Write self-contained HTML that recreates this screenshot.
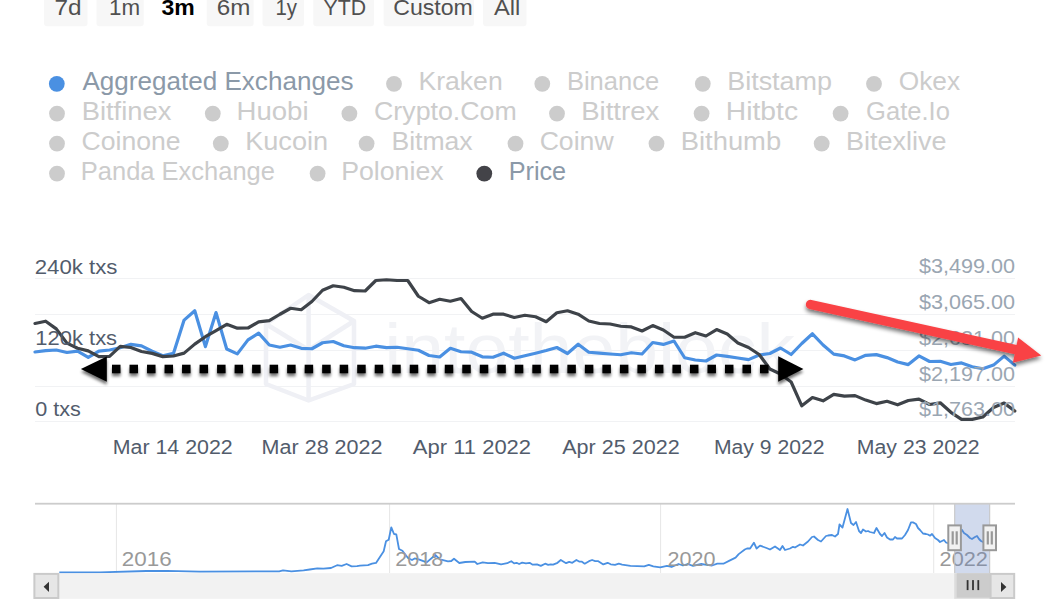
<!DOCTYPE html>
<html><head><meta charset="utf-8"><title>Exchange transactions chart</title>
<style>
html,body{margin:0;padding:0;background:#fff;width:1050px;height:600px;overflow:hidden;}
svg{display:block;font-family:"Liberation Sans", sans-serif;}
</style></head><body>
<svg width="1050" height="600" viewBox="0 0 1050 600">
<defs>
<clipPath id="plotclip"><rect x="33" y="260" width="984" height="170"/></clipPath>
<filter id="shd" x="-5%" y="-50%" width="110%" height="250%"><feGaussianBlur in="SourceAlpha" stdDeviation="1.6"/><feOffset dx="0" dy="3" result="b"/><feComponentTransfer><feFuncA type="linear" slope="0.55"/></feComponentTransfer><feMerge><feMergeNode/><feMergeNode in="SourceGraphic"/></feMerge></filter>
<filter id="shd2" x="-10%" y="-50%" width="120%" height="250%"><feGaussianBlur in="SourceAlpha" stdDeviation="2"/><feOffset dx="0" dy="3" result="b"/><feComponentTransfer><feFuncA type="linear" slope="0.55"/></feComponentTransfer><feMerge><feMergeNode/><feMergeNode in="SourceGraphic"/></feMerge></filter>
</defs>
<rect width="1050" height="600" fill="#ffffff"/>
<rect x="44" y="-10" width="43.5" height="36.2" rx="3" fill="#f7f7f7"/>
<text x="54.45" y="14.90" font-size="22" fill="#505050" textLength="27.12" lengthAdjust="spacingAndGlyphs">7d</text>
<rect x="96.5" y="-10" width="47.2" height="36.2" rx="3" fill="#f7f7f7"/>
<text x="109.00" y="14.90" font-size="22" fill="#505050" textLength="31.08" lengthAdjust="spacingAndGlyphs">1m</text>
<text x="161.57" y="14.90" font-size="22" fill="#000000" font-weight="bold" textLength="33.25" lengthAdjust="spacingAndGlyphs">3m</text>
<rect x="206.7" y="-10" width="46.9" height="36.2" rx="3" fill="#f7f7f7"/>
<text x="216.77" y="14.90" font-size="22" fill="#505050" textLength="33.62" lengthAdjust="spacingAndGlyphs">6m</text>
<rect x="262.5" y="-10" width="41.5" height="36.2" rx="3" fill="#f7f7f7"/>
<text x="275.44" y="14.90" font-size="22" fill="#505050" textLength="21.60" lengthAdjust="spacingAndGlyphs">1y</text>
<rect x="313.3" y="-10" width="60.7" height="36.2" rx="3" fill="#f7f7f7"/>
<text x="323.53" y="14.90" font-size="22" fill="#505050" textLength="42.48" lengthAdjust="spacingAndGlyphs">YTD</text>
<rect x="383.6" y="-10" width="90.4" height="36.2" rx="3" fill="#f7f7f7"/>
<text x="393.23" y="14.90" font-size="22" fill="#505050" textLength="79.60" lengthAdjust="spacingAndGlyphs">Custom</text>
<rect x="483.1" y="-10" width="43.4" height="36.2" rx="3" fill="#f7f7f7"/>
<text x="493.95" y="14.90" font-size="22" fill="#505050" textLength="26.33" lengthAdjust="spacingAndGlyphs">All</text>
<circle cx="56.8" cy="83.8" r="7.9" fill="#4a90e2"/>
<text x="82.45" y="90.20" font-size="25.4" fill="#8b99a8" textLength="270.99" lengthAdjust="spacingAndGlyphs">Aggregated Exchanges</text>
<circle cx="394.0" cy="83.8" r="7.9" fill="#cccccc"/>
<text x="418.42" y="90.20" font-size="25.4" fill="#cccccc" textLength="84.31" lengthAdjust="spacingAndGlyphs">Kraken</text>
<circle cx="542.3" cy="83.8" r="7.9" fill="#cccccc"/>
<text x="566.91" y="90.20" font-size="25.4" fill="#cccccc" textLength="92.23" lengthAdjust="spacingAndGlyphs">Binance</text>
<circle cx="702.8" cy="83.8" r="7.9" fill="#cccccc"/>
<text x="727.19" y="90.20" font-size="25.4" fill="#cccccc" textLength="104.84" lengthAdjust="spacingAndGlyphs">Bitstamp</text>
<circle cx="874.0" cy="83.8" r="7.9" fill="#cccccc"/>
<text x="898.76" y="90.20" font-size="25.4" fill="#cccccc" textLength="61.33" lengthAdjust="spacingAndGlyphs">Okex</text>
<circle cx="57.0" cy="113.6" r="7.9" fill="#cccccc"/>
<text x="81.66" y="120.10" font-size="25.4" fill="#cccccc" textLength="89.64" lengthAdjust="spacingAndGlyphs">Bitfinex</text>
<circle cx="212.8" cy="113.6" r="7.9" fill="#cccccc"/>
<text x="236.54" y="120.10" font-size="25.4" fill="#cccccc" textLength="72.02" lengthAdjust="spacingAndGlyphs">Huobi</text>
<circle cx="349.4" cy="113.6" r="7.9" fill="#cccccc"/>
<text x="374.04" y="120.10" font-size="25.4" fill="#cccccc" textLength="142.72" lengthAdjust="spacingAndGlyphs">Crypto.Com</text>
<circle cx="557.0" cy="113.6" r="7.9" fill="#cccccc"/>
<text x="581.24" y="120.10" font-size="25.4" fill="#cccccc" textLength="78.06" lengthAdjust="spacingAndGlyphs">Bittrex</text>
<circle cx="701.6" cy="113.6" r="7.9" fill="#cccccc"/>
<text x="725.88" y="120.10" font-size="25.4" fill="#cccccc" textLength="72.16" lengthAdjust="spacingAndGlyphs">Hitbtc</text>
<circle cx="840.6" cy="113.6" r="7.9" fill="#cccccc"/>
<text x="866.12" y="120.10" font-size="25.4" fill="#cccccc" textLength="83.76" lengthAdjust="spacingAndGlyphs">Gate.Io</text>
<circle cx="57.0" cy="143.6" r="7.9" fill="#cccccc"/>
<text x="81.55" y="150.10" font-size="25.4" fill="#cccccc" textLength="99.13" lengthAdjust="spacingAndGlyphs">Coinone</text>
<circle cx="220.8" cy="143.6" r="7.9" fill="#cccccc"/>
<text x="245.18" y="150.10" font-size="25.4" fill="#cccccc" textLength="82.88" lengthAdjust="spacingAndGlyphs">Kucoin</text>
<circle cx="366.6" cy="143.6" r="7.9" fill="#cccccc"/>
<text x="391.42" y="150.10" font-size="25.4" fill="#cccccc" textLength="81.27" lengthAdjust="spacingAndGlyphs">Bitmax</text>
<circle cx="515.5" cy="143.6" r="7.9" fill="#cccccc"/>
<text x="539.65" y="150.10" font-size="25.4" fill="#cccccc" textLength="73.99" lengthAdjust="spacingAndGlyphs">Coinw</text>
<circle cx="656.5" cy="143.6" r="7.9" fill="#cccccc"/>
<text x="680.76" y="150.10" font-size="25.4" fill="#cccccc" textLength="100.39" lengthAdjust="spacingAndGlyphs">Bithumb</text>
<circle cx="821.7" cy="143.6" r="7.9" fill="#cccccc"/>
<text x="845.99" y="150.10" font-size="25.4" fill="#cccccc" textLength="100.41" lengthAdjust="spacingAndGlyphs">Bitexlive</text>
<circle cx="57.0" cy="173.6" r="7.9" fill="#cccccc"/>
<text x="80.81" y="180.10" font-size="25.4" fill="#cccccc" textLength="194.12" lengthAdjust="spacingAndGlyphs">Panda Exchange</text>
<circle cx="317.6" cy="173.6" r="7.9" fill="#cccccc"/>
<text x="341.21" y="180.10" font-size="25.4" fill="#cccccc" textLength="102.38" lengthAdjust="spacingAndGlyphs">Poloniex</text>
<circle cx="484.3" cy="173.6" r="7.9" fill="#434348"/>
<text x="508.73" y="180.10" font-size="25.4" fill="#8b99a8" textLength="57.39" lengthAdjust="spacingAndGlyphs">Price</text>
<rect x="35" y="278.0" width="980" height="1" fill="#f1f2f4"/>
<rect x="35" y="314.0" width="980" height="1" fill="#f1f2f4"/>
<rect x="35" y="350.0" width="980" height="1" fill="#f1f2f4"/>
<rect x="35" y="386.0" width="980" height="1" fill="#f1f2f4"/>
<rect x="35" y="421.0" width="980" height="1" fill="#f1f2f4"/>
<g fill="none" stroke="#eff0f5" stroke-width="4.5" stroke-linejoin="round"><path d="M308.6 295 L354 321 L354 384 L308.6 400.5 L266 384 L266 324 Z"/><path d="M308.6 295 L308.6 400.5 M266 324 L308.6 350 L354 321"/></g>
<text x="384.15" y="373.00" font-size="70" fill="#f2f3f6" textLength="410.74" lengthAdjust="spacingAndGlyphs">intotheblock</text>
<g clip-path="url(#plotclip)">
<polyline points="35.00,352.00 45.65,350.60 56.30,350.00 66.95,352.50 77.60,351.10 88.25,357.40 98.90,351.10 109.55,350.00 120.20,347.70 130.85,344.30 141.50,345.90 152.15,351.30 162.80,355.70 173.45,353.40 184.10,320.10 194.75,310.70 205.40,346.60 216.05,312.60 226.70,349.00 237.35,353.90 248.00,339.90 258.65,333.10 269.30,345.00 279.95,347.25 290.60,345.00 301.25,348.30 311.90,348.75 322.55,342.75 333.20,341.50 343.85,345.75 354.50,347.70 365.15,348.20 375.80,346.20 386.45,347.70 397.10,347.25 407.75,348.75 418.40,350.25 429.05,355.50 439.70,357.00 450.35,348.30 461.00,351.75 471.65,352.20 482.30,356.80 492.95,357.25 503.60,353.20 514.25,358.30 524.90,355.75 535.55,353.20 546.20,350.50 556.85,347.50 567.50,353.50 578.15,344.20 588.80,352.25 599.45,353.10 610.10,354.00 620.75,354.75 631.40,352.75 642.05,354.00 652.70,342.50 663.35,344.40 674.00,341.00 684.65,357.75 695.30,360.00 705.95,361.00 716.60,355.00 727.25,356.40 737.90,358.00 748.55,359.60 759.20,355.00 769.85,353.50 780.50,348.00 791.15,354.50 801.80,343.50 812.45,333.80 823.10,345.00 833.75,354.10 844.40,355.90 855.05,359.90 865.70,355.30 876.35,354.60 887.00,357.60 897.65,362.00 908.30,364.60 918.95,355.90 929.60,361.50 940.25,361.30 950.90,364.50 961.55,362.90 972.20,366.70 982.85,368.80 993.50,365.10 1004.15,356.10 1014.80,365.10" fill="none" stroke="#4a90e2" stroke-width="3.2" stroke-linejoin="round" stroke-linecap="round"/>
<polyline points="35.00,323.50 45.65,321.20 56.30,328.90 66.95,343.10 77.60,348.30 88.25,350.90 98.90,356.60 109.55,356.30 120.20,346.30 130.85,347.50 141.50,351.50 152.15,353.40 162.80,356.60 173.45,356.00 184.10,353.10 194.75,344.10 205.40,336.70 216.05,330.60 226.70,324.30 237.35,328.20 248.00,328.00 258.65,321.90 269.30,320.70 279.95,314.25 290.60,308.25 301.25,309.75 311.90,301.50 322.55,290.25 333.20,285.75 343.85,287.25 354.50,290.70 365.15,291.00 375.80,280.50 386.45,279.75 397.10,280.50 407.75,280.50 418.40,296.25 429.05,302.70 439.70,299.25 450.35,301.20 461.00,298.50 471.65,311.50 482.30,318.25 492.95,314.20 503.60,314.20 514.25,317.50 524.90,315.25 535.55,316.75 546.20,321.70 556.85,312.70 567.50,310.75 578.15,314.20 588.80,321.00 599.45,323.50 610.10,324.00 620.75,326.25 631.40,326.90 642.05,331.00 652.70,325.60 663.35,330.00 674.00,337.25 684.65,337.25 695.30,332.70 705.95,336.00 716.60,329.60 727.25,334.00 737.90,343.00 748.55,347.50 759.20,354.50 769.85,369.00 780.50,374.00 791.15,382.00 801.80,405.80 812.45,397.50 823.10,400.80 833.75,394.30 844.40,396.10 855.05,395.60 865.70,400.10 876.35,403.60 887.00,401.30 897.65,404.80 908.30,400.50 918.95,399.10 929.60,404.50 940.25,402.80 950.90,412.30 961.55,419.40 972.20,419.40 982.85,417.00 993.50,407.50 1004.15,403.10 1014.80,411.00" fill="none" stroke="#3e4349" stroke-width="3.2" stroke-linejoin="round" stroke-linecap="round"/>
</g>
<text x="34.78" y="273.80" font-size="21" fill="#525c6c" textLength="82.72" lengthAdjust="spacingAndGlyphs">240k txs</text>
<text x="35.33" y="345.30" font-size="21" fill="#525c6c" textLength="81.77" lengthAdjust="spacingAndGlyphs">120k txs</text>
<text x="35.16" y="415.60" font-size="21" fill="#525c6c" textLength="45.62" lengthAdjust="spacingAndGlyphs">0 txs</text>
<text x="919.07" y="273.40" font-size="21" fill="#9aa6b2" textLength="96.08" lengthAdjust="spacingAndGlyphs">$3,499.00</text>
<text x="919.07" y="309.20" font-size="21" fill="#9aa6b2" textLength="96.08" lengthAdjust="spacingAndGlyphs">$3,065.00</text>
<text x="919.07" y="345.00" font-size="21" fill="#9aa6b2" textLength="96.08" lengthAdjust="spacingAndGlyphs">$2,631.00</text>
<text x="919.07" y="380.60" font-size="21" fill="#9aa6b2" textLength="96.08" lengthAdjust="spacingAndGlyphs">$2,197.00</text>
<text x="919.07" y="415.60" font-size="21" fill="#9aa6b2" textLength="96.08" lengthAdjust="spacingAndGlyphs">$1,763.00</text>
<text x="112.75" y="454.00" font-size="20" fill="#525c6c" textLength="119.93" lengthAdjust="spacingAndGlyphs">Mar 14 2022</text>
<text x="261.63" y="454.00" font-size="20" fill="#525c6c" textLength="120.85" lengthAdjust="spacingAndGlyphs">Mar 28 2022</text>
<text x="412.86" y="454.00" font-size="20" fill="#525c6c" textLength="118.23" lengthAdjust="spacingAndGlyphs">Apr 11 2022</text>
<text x="562.26" y="454.00" font-size="20" fill="#525c6c" textLength="117.43" lengthAdjust="spacingAndGlyphs">Apr 25 2022</text>
<text x="713.97" y="454.00" font-size="20" fill="#525c6c" textLength="110.50" lengthAdjust="spacingAndGlyphs">May 9 2022</text>
<text x="856.86" y="454.00" font-size="20" fill="#525c6c" textLength="122.81" lengthAdjust="spacingAndGlyphs">May 23 2022</text>
<g filter="url(#shd)" fill="#000"><path d="M80.9 369 L106.8 356.4 L106.8 381.8 Z" fill="#000"/><path d="M803.4 369 L778.2 356.2 L778.2 381.8 Z" fill="#000"/><rect x="112.00" y="364.7" width="8.5" height="8.6"/><rect x="129.51" y="364.7" width="8.5" height="8.6"/><rect x="147.03" y="364.7" width="8.5" height="8.6"/><rect x="164.54" y="364.7" width="8.5" height="8.6"/><rect x="182.05" y="364.7" width="8.5" height="8.6"/><rect x="199.57" y="364.7" width="8.5" height="8.6"/><rect x="217.08" y="364.7" width="8.5" height="8.6"/><rect x="234.59" y="364.7" width="8.5" height="8.6"/><rect x="252.11" y="364.7" width="8.5" height="8.6"/><rect x="269.62" y="364.7" width="8.5" height="8.6"/><rect x="287.14" y="364.7" width="8.5" height="8.6"/><rect x="304.65" y="364.7" width="8.5" height="8.6"/><rect x="322.16" y="364.7" width="8.5" height="8.6"/><rect x="339.68" y="364.7" width="8.5" height="8.6"/><rect x="357.19" y="364.7" width="8.5" height="8.6"/><rect x="374.70" y="364.7" width="8.5" height="8.6"/><rect x="392.22" y="364.7" width="8.5" height="8.6"/><rect x="409.73" y="364.7" width="8.5" height="8.6"/><rect x="427.24" y="364.7" width="8.5" height="8.6"/><rect x="444.76" y="364.7" width="8.5" height="8.6"/><rect x="462.27" y="364.7" width="8.5" height="8.6"/><rect x="479.78" y="364.7" width="8.5" height="8.6"/><rect x="497.30" y="364.7" width="8.5" height="8.6"/><rect x="514.81" y="364.7" width="8.5" height="8.6"/><rect x="532.32" y="364.7" width="8.5" height="8.6"/><rect x="549.84" y="364.7" width="8.5" height="8.6"/><rect x="567.35" y="364.7" width="8.5" height="8.6"/><rect x="584.86" y="364.7" width="8.5" height="8.6"/><rect x="602.38" y="364.7" width="8.5" height="8.6"/><rect x="619.89" y="364.7" width="8.5" height="8.6"/><rect x="637.41" y="364.7" width="8.5" height="8.6"/><rect x="654.92" y="364.7" width="8.5" height="8.6"/><rect x="672.43" y="364.7" width="8.5" height="8.6"/><rect x="689.95" y="364.7" width="8.5" height="8.6"/><rect x="707.46" y="364.7" width="8.5" height="8.6"/><rect x="724.97" y="364.7" width="8.5" height="8.6"/><rect x="742.49" y="364.7" width="8.5" height="8.6"/><rect x="760.00" y="364.7" width="8.5" height="8.6"/></g>
<g filter="url(#shd2)"><line x1="810.5" y1="304.5" x2="1018" y2="350.2" stroke="#f94245" stroke-width="9.4" stroke-linecap="round"/><path d="M1041.3 355.5 L1018.1 337.5 L1012.9 362.7 Z" fill="#f94245"/></g>
<rect x="115.9" y="504" width="1" height="69" fill="#e6e6e6"/>
<rect x="389.1" y="504" width="1" height="69" fill="#e6e6e6"/>
<rect x="660.1" y="504" width="1" height="69" fill="#e6e6e6"/>
<rect x="933.2" y="504" width="1" height="69" fill="#e6e6e6"/>
<polyline points="59.3,572.5 100,572.3 146.4,571.0 167,570.8 200,571.6 279.2,571.3 283,570.4 291.4,571.3 303.6,570.4 309.7,569.5 317.3,568.3 323.4,568.6 331,568 337.1,565.2 341.7,565.8 346.6,564 351.6,566.4 357,566.1 360,565.6 368,565.1 372,563.7 376,562.9 383.7,551.3 386,541.3 388.7,539.7 391.3,527.3 394,534 396.3,534.4 399,549 402.4,550.7 408,558 412,560 414.7,558.4 418.7,559.3 426.7,562.4 435.3,555 440,559.3 448,561.3 451.3,561 454,558.7 459.3,563 465.3,562 474.7,561.6 477.3,564 482.7,562.4 488,563.2 494.7,562.9 501.1,564.3 507.3,563.2 511.3,561.2 514.1,563.4 516.6,562.8 519.1,564 522.2,562.7 525.9,563.4 529.6,562.8 532.7,564.7 537,564.3 540.8,565.9 545.1,563.7 548.2,564.9 550.7,564.3 553.1,564.7 557.5,562.8 560.8,560 566.1,563.2 569.2,561.9 572.3,562.8 576.4,560 579.1,561.6 581.6,561.6 584.7,563.7 589,561.2 592.1,560 595.2,561.2 598.3,561.2 603.3,564.4 607.6,562.8 610.7,564.3 615,564.9 618.8,563.7 622.1,564.6 630.5,565.8 644.2,566.3 648.8,564.8 653.3,566.3 660.2,567.4 667,565.8 671.6,567 678.5,564 683,565.5 687.6,564 693,565.8 701.3,564 706.7,564.8 712,565.5 717.3,563.7 723.4,563.7 729.5,560.6 735.6,557.6 738.7,554.1 744.8,549.5 747,548.5 750.1,548.5 753.9,542.7 756.6,548.5 760,545.6 766.5,548 770,549.5 775,546.5 780,550 782.5,546 785,550 790,548.5 793,546.8 795,547.5 800,544.5 803,545.5 808,541.5 812,537 814,536.5 818,540 821,541.5 826,536 828,535.5 832,535 835,536.5 838,534 839.5,524.5 842.5,527.5 847.5,509 851,523 853.5,525 856,522 859,531 861,533 863,529.5 866,531.5 868,531 870,532 874,533 876.5,528 880,534 882,536 884.5,533 887,537.5 890,539.5 893,539.5 895,537 897,538.5 902,538.5 905,535 908,530 911,522.4 913,522.4 916,524 918,528 920,530 923,533.5 926,534 928,534.5 930,535.7 932,534 935,538 938,540 940,542 942,541 944,540 946,542.5 950,544 955,540 958,534 962,530 964,533 967,535 970,538 972,539 975,537 977,536 979,539 981,541 985,543" fill="none" stroke="#4a90e2" stroke-width="1.8" stroke-linejoin="round"/>
<text x="121.87" y="565.80" font-size="20" fill="#999999" textLength="49.81" lengthAdjust="spacingAndGlyphs">2016</text>
<text x="395.21" y="565.80" font-size="20" fill="#999999" textLength="48.13" lengthAdjust="spacingAndGlyphs">2018</text>
<text x="667.52" y="565.80" font-size="20" fill="#999999" textLength="47.92" lengthAdjust="spacingAndGlyphs">2020</text>
<text x="939.61" y="565.80" font-size="20" fill="#999999" textLength="48.18" lengthAdjust="spacingAndGlyphs">2022</text>
<rect x="954.7" y="504" width="35" height="69" fill="rgb(102,133,194)" fill-opacity="0.3"/>
<rect x="954.2" y="504" width="1" height="69" fill="#c4c4c4"/>
<rect x="989.2" y="504" width="1" height="69" fill="#c4c4c4"/>
<rect x="35" y="502.8" width="980" height="1.8" fill="#cccccc"/>
<rect x="948.3" y="525.4" width="12.6" height="24.8" fill="#f2f2f2" stroke="#999999" stroke-width="2"/>
<rect x="951.5999999999999" y="531.3" width="2.2" height="13.2" fill="#999999"/>
<rect x="955.5999999999999" y="531.3" width="2.2" height="13.2" fill="#999999"/>
<rect x="983.4" y="525.4" width="12.6" height="24.8" fill="#f2f2f2" stroke="#999999" stroke-width="2"/>
<rect x="986.6999999999999" y="531.3" width="2.2" height="13.2" fill="#999999"/>
<rect x="990.6999999999999" y="531.3" width="2.2" height="13.2" fill="#999999"/>
<rect x="33.6" y="573.2" width="981.2" height="25.6" fill="#f2f2f2"/>
<rect x="34.4" y="573.9" width="23.9" height="24.1" fill="#e6e6e6" stroke="#cacaca" stroke-width="2"/>
<path d="M43.6 586.8 L49 581.7 L49 591.9 Z" fill="#333"/>
<rect x="954.2" y="573.2" width="35.8" height="25.6" fill="#dcdcdc"/>
<rect x="956.7" y="573.2" width="33.3" height="24.4" fill="#cccccc"/>
<rect x="966.7" y="580.1" width="1.8" height="10" fill="#333"/>
<rect x="972.1" y="580.1" width="1.8" height="10" fill="#333"/>
<rect x="977.4" y="580.1" width="1.8" height="10" fill="#333"/>
<rect x="990.6" y="573.9" width="23.6" height="24.1" fill="#e6e6e6" stroke="#cacaca" stroke-width="2"/>
<path d="M1006.4 587 L1001 581.9 L1001 592.1 Z" fill="#333"/>
</svg>
</body></html>
